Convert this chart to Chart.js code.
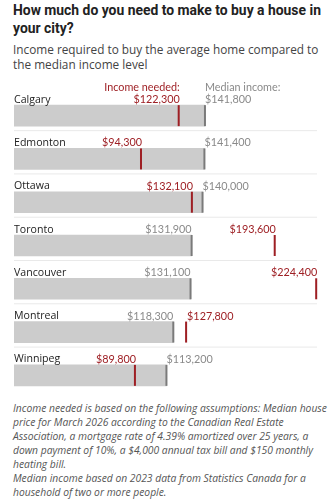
<!DOCTYPE html>
<html>
<head>
<meta charset="utf-8">
<script src="https://cdn.jsdelivr.net/npm/chart.js@4"></script>
<style>
  body { margin: 0; background: #fff; font-family: "Open Sans", sans-serif; width: 331px; height: 500px; overflow: hidden; position: relative; }
  #title { position: absolute; left: 13px; top: 1px; width: 318px; font-family: Roboto, sans-serif; font-size: 13.9px; font-weight: 700; line-height: 18px; color: #222; }
  #sub { position: absolute; left: 13px; top: 42px; width: 316px; font-size: 11.8px; line-height: 15px; color: #444; }
  #wrap { position: absolute; left: 0; top: 80px; }
  #note { position: absolute; left: 13px; top: 401px; width: 316px; font-size: 10.3px; font-style: italic; line-height: 14px; color: #555; }
</style>
</head>
<body>
<div id="title">How much do you need to make to buy a house in your city?</div>
<div id="sub">Income required to buy the average home compared to the median income level</div>
<div id="wrap"><canvas id="c" width="331" height="320"></canvas></div>
<div id="note">Income needed is based on the following assumptions: Median house price for March 2026 according to the Canadian Real Estate Association, a mortgage rate of 4.39% amortized over 25 years, a down payment of 10%, a $4,000 annual tax bill and $150 monthly heating bill.<br>Median income based on 2023 data from Statistics Canada for a household of two or more people.</div>
<script>
// Data
var cities = ['Calgary', 'Edmonton', 'Ottawa', 'Toronto', 'Vancouver', 'Montreal', 'Winnipeg']
var medianIncome = [141800, 141400, 140000, 131900, 131100, 118300, 113200]
var incomeNeeded = [122300, 94300, 132100, 193600, 224400, 127800, 89800]

// label side for the red value ('right' = text ends at the line)
var needAlign = ['right', 'right', 'right', 'right', 'right', 'left', 'right']

var RED = '#9e1f24'
var GREY_TXT = '#8a8a8a'

function fmt(v) {
    return '$' + v.toLocaleString('en-US')
}

var markers = {
    id: 'markers',
    afterDatasetsDraw: function(chart) {
        var ctx = chart.ctx
        var x = chart.scales.x
        var meta = chart.getDatasetMeta(0)
        var area = chart.chartArea
        ctx.save()
        for (let i = 0; i < cities.length; i++) {
            var bar = meta.data[i]
            var top = bar.y - bar.height / 2
            var bot = bar.y + bar.height / 2
            var mx = x.getPixelForValue(medianIncome[i])
            var nx = x.getPixelForValue(incomeNeeded[i])
            var ly = bar.y - 16

            // median end line
            ctx.fillStyle = '#7a7a7a'
            ctx.fillRect(mx - 1, top, 2, bot - top)
            // income needed line
            ctx.fillStyle = RED
            ctx.fillRect(nx - 1, top, 2, bot - top)

            // separator
            if (i < cities.length - 1) {
                ctx.fillStyle = '#e9e9e9'
                ctx.fillRect(area.left, bot + 4, area.right - area.left, 1)
            }

            ctx.textBaseline = 'middle'
            ctx.font = '500 10.6px "Open Sans"'
            ctx.fillStyle = '#222'
            ctx.textAlign = 'left'
            ctx.fillText(cities[i], area.left, ly)

            ctx.font = '10.8px Lato'
            // median label
            ctx.fillStyle = GREY_TXT
            if (medianIncome[i] >= incomeNeeded[i]) {
                ctx.textAlign = 'left'
                ctx.fillText(fmt(medianIncome[i]), mx, ly)
                if (i == 0) ctx.fillText('Median income:', mx, ly - 12)
            } else {
                ctx.textAlign = 'right'
                ctx.fillText(fmt(medianIncome[i]), mx, ly)
            }
            // needed label
            ctx.fillStyle = RED
            if (needAlign[i] == 'left') {
                ctx.textAlign = 'left'
                ctx.fillText(fmt(incomeNeeded[i]), nx + 1, ly)
            } else {
                ctx.textAlign = 'right'
                ctx.fillText(fmt(incomeNeeded[i]), nx + 1, ly)
                if (i == 0) ctx.fillText('Income needed:', nx + 1, ly - 12)
            }
        }
        ctx.restore()
    }
}

var ctx = document.getElementById('c').getContext('2d')
var myChart = new Chart(ctx, {
    type: 'bar',
    data: {
        labels: cities,
        datasets: [{
            label: 'Median income',
            data: medianIncome,
            backgroundColor: '#cccccc',
            borderWidth: 0,
            barThickness: 21
        }]
    },
    options: {
        indexAxis: 'y',
        responsive: false,
        animation: false,
        layout: { padding: { top: 14, bottom: 3, left: 14, right: 14 } },
        plugins: { legend: { display: false }, tooltip: { enabled: false } },
        scales: {
            x: { display: false, min: 0, max: 225000 },
            y: { display: false }
        }
    },
    plugins: [markers]
});
</script>
</body>
</html>
